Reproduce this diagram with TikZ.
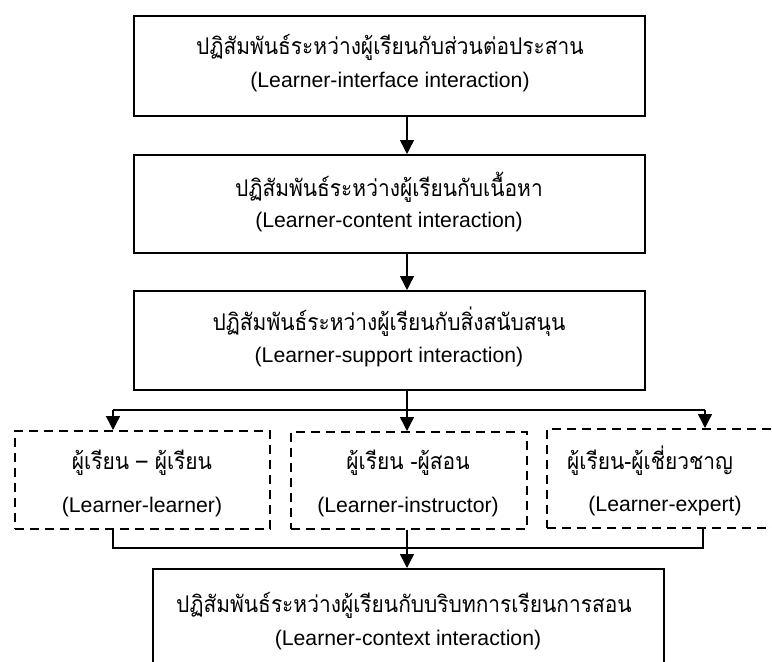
\documentclass[tikz,border=0pt]{standalone}
\usepackage{fontspec}
\setmainfont{Liberation Sans}
\newfontfamily\thaifont[Script=Thai,FakeStretch=0.91]{Loma}
\usetikzlibrary{arrows.meta}
\tikzset{
  solidbox/.style={draw=black, line width=1.6pt, inner sep=0pt, anchor=north west},
  dashbox/.style={draw=black, line width=1.6pt, dash pattern=on 9pt off 6pt, inner sep=0pt, anchor=north west},
  conn/.style={draw=black, line width=1.4pt},
  arr/.style={conn, -{Triangle[width=14pt,length=14pt]}},
  thaitxt/.style={font=\thaifont\fontsize{23}{26}\selectfont, inner sep=0pt},
  engtxt/.style={font=\fontsize{21.2}{24}\selectfont, inner sep=0pt},
}
\begin{document}
\begin{tikzpicture}[x=1pt,y=-1pt]
\useasboundingbox (0,0) rectangle (772,662);
\clip (0,0) rectangle (772,662);
% main boxes
\node[solidbox, minimum width=511pt, minimum height=100pt] (b1) at (133,15) {};
\node[solidbox, minimum width=511pt, minimum height=98pt] (b2) at (133,154) {};
\node[solidbox, minimum width=511pt, minimum height=99pt] (b3) at (133,290) {};
\node[dashbox, minimum width=255pt, minimum height=98pt] (dA) at (14,430) {};
\node[dashbox, minimum width=236pt, minimum height=97pt] (dB) at (290,431) {};
\node[dashbox, minimum width=250pt, minimum height=99pt] (dC) at (546,428) {};
\node[solidbox, minimum width=511pt, minimum height=120pt] (b5) at (152,568) {};
% texts
\node[thaitxt] (t1) at (390,47) {ปฏิสัมพันธ์ระหว่างผู้เรียนกับส่วนต่อประสาน};
\node[engtxt] (e1) at (390,82) {(Learner-interface interaction)};
\node[thaitxt] (t2) at (389,187) {ปฏิสัมพันธ์ระหว่างผู้เรียนกับเนื้อหา};
\node[engtxt] (e2) at (389,222) {(Learner-content interaction)};
\node[thaitxt] (t3) at (389,322) {ปฏิสัมพันธ์ระหว่างผู้เรียนกับสิ่งสนับสนุน};
\node[engtxt] (e3) at (389,357) {(Learner-support interaction)};
\node[thaitxt] (tA) at (142,463) {ผู้เรียน – ผู้เรียน};
\node[engtxt] (eA) at (142,507) {(Learner-learner)};
\node[thaitxt] (tB) at (408,463) {ผู้เรียน -ผู้สอน};
\node[engtxt] (eB) at (408,507) {(Learner-instructor)};
\node[thaitxt] (tC) at (650,461) {ผู้เรียน-ผู้เชี่ยวชาญ};
\node[engtxt] (eC) at (665,506) {(Learner-expert)};
\node[thaitxt] (t5) at (404,605) {ปฏิสัมพันธ์ระหว่างผู้เรียนกับบริบทการเรียนการสอน};
\node[engtxt] (e5) at (408,640) {(Learner-context interaction)};
% connector coordinates
\coordinate (ax) at (407,0);
\coordinate (sL) at (113,410);
\coordinate (sM) at (407,410);
\coordinate (sR) at (705,410);
\coordinate (mL) at (113,548);
\coordinate (mM) at (407,548);
\coordinate (mR) at (703,548);
% connectors
\draw[arr] (b1.south -| ax) -- (b2.north -| ax);
\draw[arr] (b2.south -| ax) -- (b3.north -| ax);
\draw[conn] (b3.south -| ax) -- (sM);
\draw[conn] (sL) -- (sR);
\draw[arr] (sL) -- (dA.north -| sL);
\draw[arr] (sM) -- (dB.north -| sM);
\draw[arr] (sR) -- (dC.north -| sR);
\draw[conn] (dA.south -| mL) -- (mL) -- (mR) -- (dC.south -| mR);
\draw[conn] (dB.south -| mM) -- (mM);
\draw[arr] (mM) -- (b5.north -| mM);
\end{tikzpicture}
\end{document}
